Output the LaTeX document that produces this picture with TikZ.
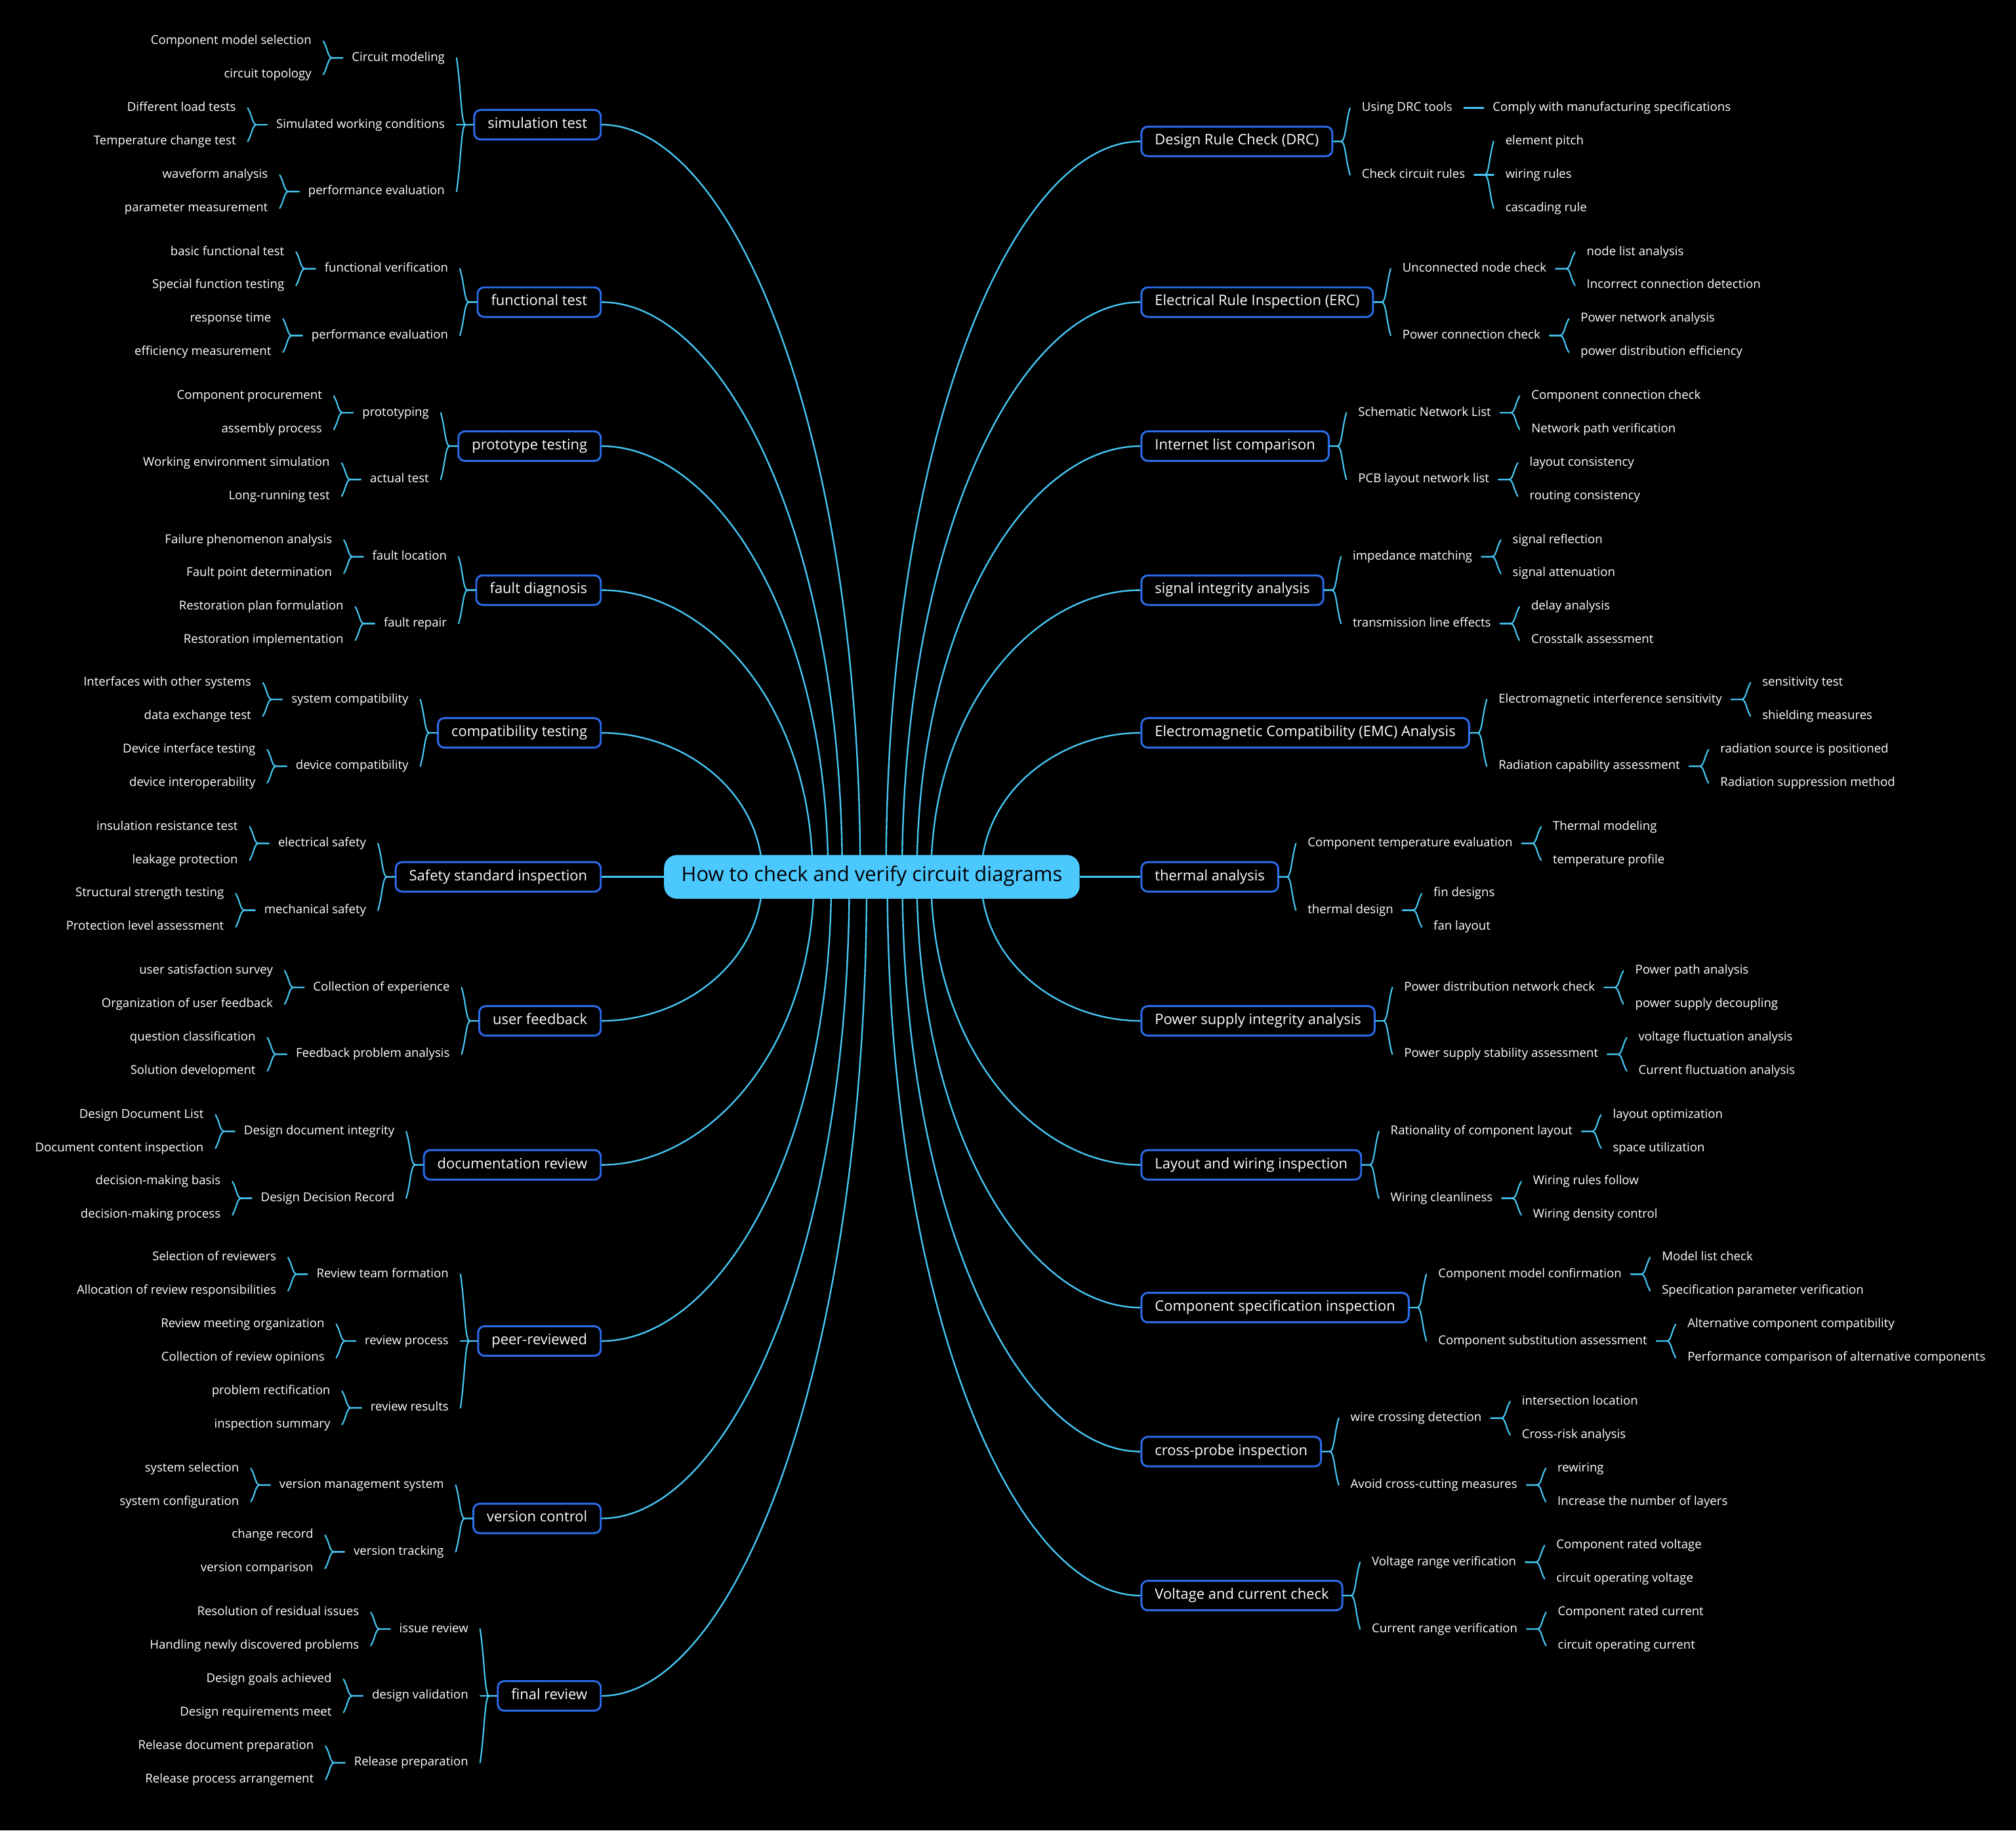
\documentclass[tikz,border=0pt]{standalone}
\usepackage{fontspec}
\setmainfont{Open Sans}
\usetikzlibrary{calc}
\definecolor{linec}{HTML}{46C8F5}
\definecolor{boxc}{HTML}{2C6CEB}
\definecolor{rootc}{HTML}{4BC9FF}
\pgfdeclarelayer{bg}
\pgfdeclarelayer{lines}
\pgfsetlayers{bg,lines,main}
\tikzset{
  rootnode/.style={rectangle,rounded corners=10pt,fill=rootc,text=black,
    font=\fontsize{15.8}{18}\selectfont,minimum height=34pt,inner xsep=13.5pt,inner ysep=0pt,
    text height=11pt,text depth=3.5pt},
  topic/.style={rectangle,rounded corners=5pt,draw=boxc,line width=1.5pt,fill=black,text=white,
    font=\fontsize{11.2}{13}\selectfont,minimum height=23pt,inner xsep=10.5pt,inner ysep=0pt,
    text height=8pt,text depth=2.5pt},
  sub/.style={inner sep=0pt,text=white,font=\fontsize{9.5}{12}\selectfont,
    text height=7pt,text depth=2pt},
  brc/.style={draw=linec,line width=1.1pt,line cap=round},
  conn/.style={draw=linec,line width=1.2pt}
}
% brace on the left side: parent #1, child #2, gap of tip from parent #3
\newcommand\Lbr[3]{\draw[brc] let \p1=(#1.west), \p2=(#2.east) in
  ({\x2+9pt},\y2) .. controls ({\x2+12.5pt},{\y2+0.45*(\y1-\y2)}) and ({\x2+12.5pt},\y1) .. ({\x2+16pt},\y1) -- ({\x1-#3},\y1);}
\newcommand\Rbr[3]{\draw[brc] let \p1=(#1.east), \p2=(#2.west) in
  ({\x2-9pt},\y2) .. controls ({\x2-12.5pt},{\y2+0.45*(\y1-\y2)}) and ({\x2-12.5pt},\y1) .. ({\x2-16pt},\y1) -- ({\x1+#3},\y1);}
% level-2 node with two level-3 children
\newcommand\Lgrp[6]{%
  \node[sub,anchor=east] (#2) at ($(#1.west)+(-22,#3)$) {#4};
  \node[sub,anchor=east] (#2a) at ($(#2.west)+(-31,-13)$) {#5};
  \node[sub,anchor=east] (#2b) at ($(#2.west)+(-31,13)$) {#6};
  \Lbr{#1}{#2}{0pt}\Lbr{#2}{#2a}{7pt}\Lbr{#2}{#2b}{7pt}}
\newcommand\Rgrp[6]{%
  \node[sub,anchor=west] (#2) at ($(#1.east)+(22,#3)$) {#4};
  \node[sub,anchor=west] (#2a) at ($(#2.east)+(31,-13)$) {#5};
  \node[sub,anchor=west] (#2b) at ($(#2.east)+(31,13)$) {#6};
  \Rbr{#1}{#2}{0pt}\Rbr{#2}{#2a}{7pt}\Rbr{#2}{#2b}{7pt}}
% connectors from the root
\newcommand\Lconn[2]{\draw[conn] let \p1=(#1.east), \p2=(root.center) in
  (\p1) .. controls ({0.5*\x1+0.5*\x2+0.5*(#2)},\y1) and ({\x2+(#2)},{\y2+0.6*(\y1-\y2)}) .. ({\x2+(#2)},\y2);}
\newcommand\Rconn[2]{\draw[conn] let \p1=(#1.west), \p2=(root.center) in
  (\p1) .. controls ({0.5*\x1+0.5*\x2+0.5*(#2)},\y1) and ({\x2+(#2)},{\y2+0.6*(\y1-\y2)}) .. ({\x2+(#2)},\y2);}
\begin{document}
\begin{tikzpicture}[x=1pt,y=-1pt]
\useasboundingbox (0,0) rectangle (1568,1423.6);
\begin{pgfonlayer}{bg}
\fill[black] (0,0) rectangle (1568,1423.6);
\end{pgfonlayer}

\node[rootnode] (root) at (678.1,682) {How to check and verify circuit diagrams};

% ---------------- left side ----------------
\node[topic,anchor=east] (la) at (468,97) {simulation test};
\Lgrp{la}{la1}{-52}{Circuit modeling}{Component model selection}{circuit topology}
\Lgrp{la}{la2}{0}{Simulated working conditions}{Different load tests}{Temperature change test}
\Lgrp{la}{la3}{52}{performance evaluation}{waveform analysis}{parameter measurement}

\node[topic,anchor=east] (lb) at (468,235) {functional test};
\Lgrp{lb}{lb1}{-26}{functional verification}{basic functional test}{Special function testing}
\Lgrp{lb}{lb2}{26}{performance evaluation}{response time}{efficiency measurement}

\node[topic,anchor=east] (lc) at (468,347) {prototype testing};
\Lgrp{lc}{lc1}{-26}{prototyping}{Component procurement}{assembly process}
\Lgrp{lc}{lc2}{26}{actual test}{Working environment simulation}{Long-running test}

\node[topic,anchor=east] (ld) at (468,459) {fault diagnosis};
\Lgrp{ld}{ld1}{-26}{fault location}{Failure phenomenon analysis}{Fault point determination}
\Lgrp{ld}{ld2}{26}{fault repair}{Restoration plan formulation}{Restoration implementation}

\node[topic,anchor=east] (le) at (468,570) {compatibility testing};
\Lgrp{le}{le1}{-26}{system compatibility}{Interfaces with other systems}{data exchange test}
\Lgrp{le}{le2}{26}{device compatibility}{Device interface testing}{device interoperability}

\node[topic,anchor=east] (lf) at (468,682) {Safety standard inspection};
\Lgrp{lf}{lf1}{-26}{electrical safety}{insulation resistance test}{leakage protection}
\Lgrp{lf}{lf2}{26}{mechanical safety}{Structural strength testing}{Protection level assessment}

\node[topic,anchor=east] (lg) at (468,794) {user feedback};
\Lgrp{lg}{lg1}{-26}{Collection of experience}{user satisfaction survey}{Organization of user feedback}
\Lgrp{lg}{lg2}{26}{Feedback problem analysis}{question classification}{Solution development}

\node[topic,anchor=east] (lh) at (468,906) {documentation review};
\Lgrp{lh}{lh1}{-26}{Design document integrity}{Design Document List}{Document content inspection}
\Lgrp{lh}{lh2}{26}{Design Decision Record}{decision-making basis}{decision-making process}

\node[topic,anchor=east] (li) at (468,1043) {peer-reviewed};
\Lgrp{li}{li1}{-52}{Review team formation}{Selection of reviewers}{Allocation of review responsibilities}
\Lgrp{li}{li2}{0}{review process}{Review meeting organization}{Collection of review opinions}
\Lgrp{li}{li3}{52}{review results}{problem rectification}{inspection summary}

\node[topic,anchor=east] (lj) at (468,1181) {version control};
\Lgrp{lj}{lj1}{-26}{version management system}{system selection}{system configuration}
\Lgrp{lj}{lj2}{26}{version tracking}{change record}{version comparison}

\node[topic,anchor=east] (lk) at (468,1319) {final review};
\Lgrp{lk}{lk1}{-52}{issue review}{Resolution of residual issues}{Handling newly discovered problems}
\Lgrp{lk}{lk2}{0}{design validation}{Design goals achieved}{Design requirements meet}
\Lgrp{lk}{lk3}{52}{Release preparation}{Release document preparation}{Release process arrangement}

% ---------------- right side ----------------
\node[topic,anchor=west] (ra) at (887,110) {Design Rule Check (DRC)};
\node[sub,anchor=west] (ra1) at ($(ra.east)+(22,-26)$) {Using DRC tools};
\node[sub,anchor=west] (ra1a) at ($(ra1.east)+(31,0)$) {Comply with manufacturing specifications};
\node[sub,anchor=west] (ra2) at ($(ra.east)+(22,26)$) {Check circuit rules};
\node[sub,anchor=west] (ra2a) at ($(ra2.east)+(31,-26)$) {element pitch};
\node[sub,anchor=west] (ra2b) at ($(ra2.east)+(31,0)$) {wiring rules};
\node[sub,anchor=west] (ra2c) at ($(ra2.east)+(31,26)$) {cascading rule};
\Rbr{ra}{ra1}{0pt}\Rbr{ra}{ra2}{0pt}
\draw[brc,line width=1.5pt] let \p1=(ra1.east), \p2=(ra1a.west) in ({\x1+9pt},\y1) -- ({\x2-7pt},\y2);
\Rbr{ra2}{ra2a}{7pt}\Rbr{ra2}{ra2b}{7pt}\Rbr{ra2}{ra2c}{7pt}

\node[topic,anchor=west] (rb) at (887,235) {Electrical Rule Inspection (ERC)};
\Rgrp{rb}{rb1}{-26}{Unconnected node check}{node list analysis}{Incorrect connection detection}
\Rgrp{rb}{rb2}{26}{Power connection check}{Power network analysis}{power distribution efficiency}

\node[topic,anchor=west] (rc) at (887,347) {Internet list comparison};
\Rgrp{rc}{rc1}{-26}{Schematic Network List}{Component connection check}{Network path verification}
\Rgrp{rc}{rc2}{26}{PCB layout network list}{layout consistency}{routing consistency}

\node[topic,anchor=west] (rd) at (887,459) {signal integrity analysis};
\Rgrp{rd}{rd1}{-26}{impedance matching}{signal reflection}{signal attenuation}
\Rgrp{rd}{rd2}{26}{transmission line effects}{delay analysis}{Crosstalk assessment}

\node[topic,anchor=west] (re) at (887,570) {Electromagnetic Compatibility (EMC) Analysis};
\Rgrp{re}{re1}{-26}{Electromagnetic interference sensitivity}{sensitivity test}{shielding measures}
\Rgrp{re}{re2}{26}{Radiation capability assessment}{radiation source is positioned}{Radiation suppression method}

\node[topic,anchor=west] (rf) at (887,682) {thermal analysis};
\Rgrp{rf}{rf1}{-26}{Component temperature evaluation}{Thermal modeling}{temperature profile}
\Rgrp{rf}{rf2}{26}{thermal design}{fin designs}{fan layout}

\node[topic,anchor=west] (rg) at (887,794) {Power supply integrity analysis};
\Rgrp{rg}{rg1}{-26}{Power distribution network check}{Power path analysis}{power supply decoupling}
\Rgrp{rg}{rg2}{26}{Power supply stability assessment}{voltage fluctuation analysis}{Current fluctuation analysis}

\node[topic,anchor=west] (rh) at (887,906) {Layout and wiring inspection};
\Rgrp{rh}{rh1}{-26}{Rationality of component layout}{layout optimization}{space utilization}
\Rgrp{rh}{rh2}{26}{Wiring cleanliness}{Wiring rules follow}{Wiring density control}

\node[topic,anchor=west] (ri) at (887,1017) {Component specification inspection};
\Rgrp{ri}{ri1}{-26}{Component model confirmation}{Model list check}{Specification parameter verification}
\Rgrp{ri}{ri2}{26}{Component substitution assessment}{Alternative component compatibility}{Performance comparison of alternative components}

\node[topic,anchor=west] (rj) at (887,1129) {cross-probe inspection};
\Rgrp{rj}{rj1}{-26}{wire crossing detection}{intersection location}{Cross-risk analysis}
\Rgrp{rj}{rj2}{26}{Avoid cross-cutting measures}{rewiring}{Increase the number of layers}

\node[topic,anchor=west] (rk) at (887,1241) {Voltage and current check};
\Rgrp{rk}{rk1}{-26}{Voltage range verification}{Component rated voltage}{circuit operating voltage}
\Rgrp{rk}{rk2}{26}{Current range verification}{Component rated current}{circuit operating current}

% ---------------- connectors from the root ----------------
\begin{pgfonlayer}{lines}
\Lconn{la}{-9pt}\Lconn{lb}{-23pt}\Lconn{lc}{-34pt}\Lconn{ld}{-46pt}\Lconn{le}{-85pt}
\Lconn{lg}{-85pt}\Lconn{lh}{-45pt}\Lconn{li}{-31.5pt}\Lconn{lj}{-17.5pt}\Lconn{lk}{-4pt}
\Rconn{ra}{11pt}\Rconn{rb}{23.5pt}\Rconn{rc}{35pt}\Rconn{rd}{46pt}\Rconn{re}{85pt}
\Rconn{rg}{85pt}\Rconn{rh}{46pt}\Rconn{ri}{35pt}\Rconn{rj}{23.7pt}\Rconn{rk}{12pt}
\draw[conn] (root.west) -- (lf.east);
\draw[conn] (root.east) -- (rf.west);
\end{pgfonlayer}
\end{tikzpicture}
\end{document}
